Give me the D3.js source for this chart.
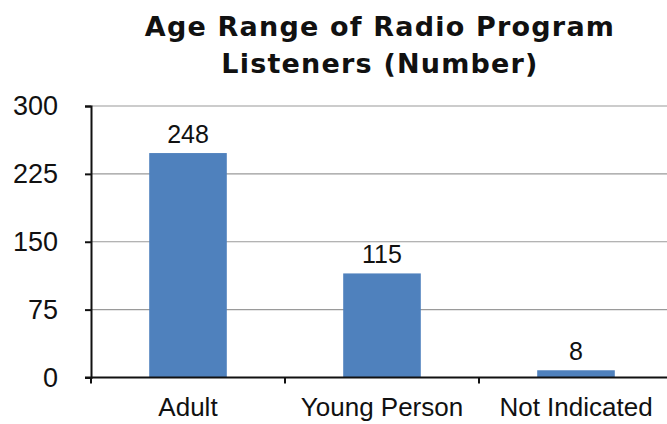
<!DOCTYPE html>
<html>
<head>
<meta charset="utf-8">
<script src="https://cdn.jsdelivr.net/npm/d3@7"></script>
<style>
  html, body { margin: 0; padding: 0; background: #fff; }
  svg { display: block; }
</style>
</head>
<body>
<svg id="chart" width="667" height="424"></svg>
<script>
// Listener counts by age range
const categories = ["Adult", "Young Person", "Not Indicated"];
const values = [248, 115, 8];
const yTicks = [0, 75, 150, 225, 300];
const titleLines = ["Age Range of Radio Program", "Listeners (Number)"];

const W = 667, H = 424;
const svg = d3.select("#chart");

const axisX = 91;
const x = d3.scaleBand()
  .domain(categories)
  .range([axisX, axisX + 582])
  .paddingInner(0.6)
  .paddingOuter(0.3);

const y = d3.scaleLinear().domain([0, 300]).range([377.5, 106]);

// Title
svg.append("g").selectAll("text")
  .data(titleLines)
  .join("text")
  .attr("x", 380)
  .attr("y", (d, i) => 36 + i * 37)
  .attr("text-anchor", "middle")
  .attr("font-family", "DejaVu Sans, Verdana, sans-serif")
  .attr("font-weight", "bold")
  .attr("font-size", 27)
  .attr("letter-spacing", 1.2)
  .attr("fill", "#111")
  .text(d => d);

// Horizontal gridlines
svg.append("g").selectAll("line")
  .data(yTicks.filter(d => d > 0))
  .join("line")
  .attr("x1", axisX).attr("x2", W)
  .attr("y1", d => y(d)).attr("y2", d => y(d))
  .attr("stroke", "#9a9a9a")
  .attr("stroke-width", 1.2);

// Bars
svg.append("g").selectAll("rect")
  .data(values)
  .join("rect")
  .attr("x", (d, i) => x(categories[i]))
  .attr("width", x.bandwidth())
  .attr("y", d => y(d))
  .attr("height", d => y(0) - y(d))
  .attr("fill", "#4f81bd");

// Value labels
svg.append("g").selectAll("text")
  .data(values)
  .join("text")
  .attr("x", (d, i) => x(categories[i]) + x.bandwidth() / 2)
  .attr("y", d => y(d) - 10)
  .attr("text-anchor", "middle")
  .attr("font-family", "Liberation Sans, Arial, sans-serif")
  .attr("font-size", 25)
  .attr("fill", "#111")
  .text(d => d);

// Y axis
const yAxis = d3.axisLeft(y).tickValues(yTicks).tickSize(6).tickPadding(27);
const gy = svg.append("g").attr("transform", `translate(${axisX},0)`).call(yAxis);
gy.select(".domain").attr("stroke", "#111").attr("stroke-width", 2);
gy.selectAll(".tick line").attr("stroke", "#111").attr("stroke-width", 2);
gy.selectAll(".tick text")
  .attr("font-family", "Liberation Sans, Arial, sans-serif")
  .attr("font-size", 27)
  .attr("fill", "#111");

// X baseline, category boundary ticks and labels
const step = x.step();
svg.append("line")
  .attr("x1", axisX - 6).attr("x2", W)
  .attr("y1", y(0)).attr("y2", y(0))
  .attr("stroke", "#111").attr("stroke-width", 2);

svg.append("g").selectAll("line")
  .data(d3.range(categories.length + 1))
  .join("line")
  .attr("x1", i => axisX + i * step).attr("x2", i => axisX + i * step)
  .attr("y1", y(0)).attr("y2", y(0) + 6)
  .attr("stroke", "#111").attr("stroke-width", 2);

svg.append("g").selectAll("text")
  .data(categories)
  .join("text")
  .attr("x", d => x(d) + x.bandwidth() / 2)
  .attr("y", 416)
  .attr("text-anchor", "middle")
  .attr("font-family", "Liberation Sans, Arial, sans-serif")
  .attr("font-size", 26)
  .attr("fill", "#111")
  .text(d => d);
</script>
</body>
</html>
